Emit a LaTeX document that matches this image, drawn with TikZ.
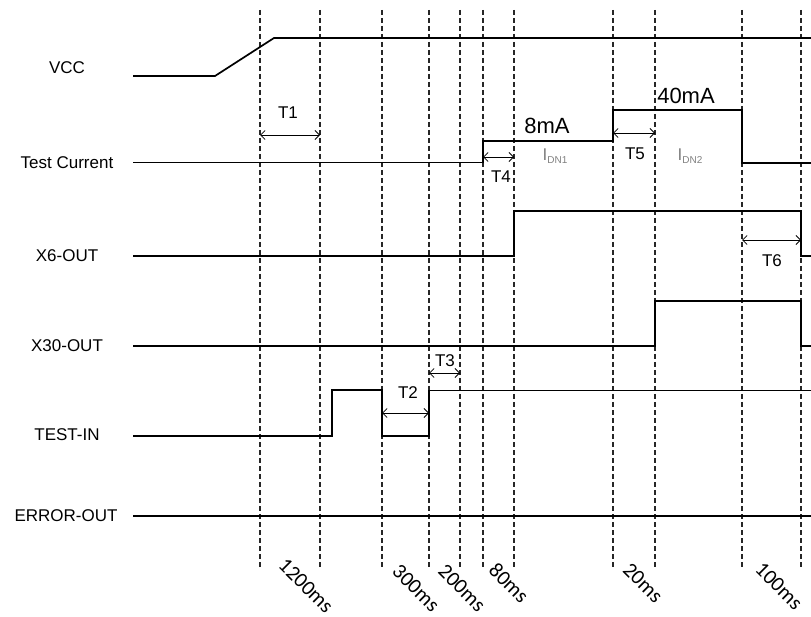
\documentclass[tikz,border=0pt]{standalone}
\usepackage{fontspec}
\setmainfont{Liberation Sans}
\newfontfamily\calfont{Carlito}
\usetikzlibrary{arrows.meta}
\begin{document}
\begin{tikzpicture}[x=1pt,y=-1pt,
  sig/.style={line width=1.7pt, line join=miter},
  thinsig/.style={line width=1pt},
  gridline/.style={line width=1.2pt, dash pattern=on 5pt off 3pt, black!85},
  dim/.style={line width=0.8pt, {Straight Barb[length=4.5pt,width=9pt]}-{Straight Barb[length=4.5pt,width=9pt]}},
  signame/.style={font=\fontsize{17}{19}\selectfont, inner sep=0pt},
  tlab/.style={font=\fontsize{17}{19}\selectfont, inner sep=0pt},
  big/.style={font=\fontsize{22}{24}\selectfont, inner sep=0pt},
  idn/.style={font=\fontsize{17}{19}\selectfont, text=black!50, inner sep=0pt},
  ms/.style={font=\calfont\fontsize{21}{23}\selectfont, rotate=-45, inner sep=0pt}
]
\useasboundingbox (0,0) rectangle (811,617);

% dashed time markers
\foreach \x [count=\i] in {260,320,382,429,460,483,514,613,655,742,801} {
  \coordinate (gt\i) at (\x,10);
  \coordinate (gb\i) at (\x,567);
  \draw[gridline] (gt\i) -- (gb\i);
}

% signal names
\node[signame] (nvcc) at (67,68) {VCC};
\node[signame] (ntc) at (67,163) {Test Current};
\node[signame] (nx6) at (67,256) {X6-OUT};
\node[signame] (nx30) at (67,346) {X30-OUT};
\node[signame] (nti) at (67,435) {TEST-IN};
\node[signame] (neo) at (66,516) {ERROR-OUT};

% waveforms
\draw[sig] (133,76) -- (215,76) -- (274,38) -- (811,38);
\draw[thinsig] (133,163) -- (483,163);
\draw[sig] (483,163) -- (483,141) -- (613,141) -- (613,110) -- (742,110) -- (742,163) -- (811,163);
\draw[sig] (133,256) -- (514,256) -- (514,211) -- (801,211) -- (801,256) -- (811,256);
\draw[sig] (133,346) -- (655,346) -- (655,301) -- (801,301) -- (801,346) -- (811,346);
\draw[sig] (133,436) -- (332,436) -- (332,390) -- (382,390) -- (382,436) -- (429,436) -- (429,390);
\draw[thinsig] (429,390) -- (811,390);
\draw[sig] (133,516) -- (811,516);

% dimension arrows
\coordinate (t1a) at (260,135); \coordinate (t1b) at (320,135);
\coordinate (t4a) at (483,157); \coordinate (t4b) at (514,157);
\coordinate (t5a) at (613,133); \coordinate (t5b) at (655,133);
\coordinate (t6a) at (742,240); \coordinate (t6b) at (801,240);
\coordinate (t2a) at (382,413); \coordinate (t2b) at (429,413);
\coordinate (t3a) at (429,373); \coordinate (t3b) at (460,373);
\draw[dim] (t1a) -- (t1b);
\draw[dim] (t4a) -- (t4b);
\draw[dim] (t5a) -- (t5b);
\draw[dim] (t6a) -- (t6b);
\draw[dim] (t2a) -- (t2b);
\draw[dim] (t3a) -- (t3b);

\node[tlab] (lt1) at (288,113) {T1};
\node[tlab] (lt4) at (501,177) {T4};
\node[tlab] (lt5) at (635,154) {T5};
\node[tlab] (lt6) at (772,261) {T6};
\node[tlab] (lt2) at (408,393) {T2};
\node[tlab] (lt3) at (445,361) {T3};

% current values
\node[big] (c8) at (547,126) {8mA};
\node[big] (c40) at (686,96) {40mA};
\node[idn] (idn1) at (555,156) {I\raisebox{-3pt}{\fontsize{10}{11}\selectfont DN1}};
\node[idn] (idn2) at (690,156) {I\raisebox{-3pt}{\fontsize{10}{11}\selectfont DN2}};

% durations
\node[ms] (d1) at (306,586) {1200ms};
\node[ms] (d2) at (416,588) {300ms};
\node[ms] (d3) at (462,588) {200ms};
\node[ms] (d4) at (509,583) {80ms};
\node[ms] (d5) at (643,583) {20ms};
\node[ms] (d6) at (779,586) {100ms};
\end{tikzpicture}
\end{document}
